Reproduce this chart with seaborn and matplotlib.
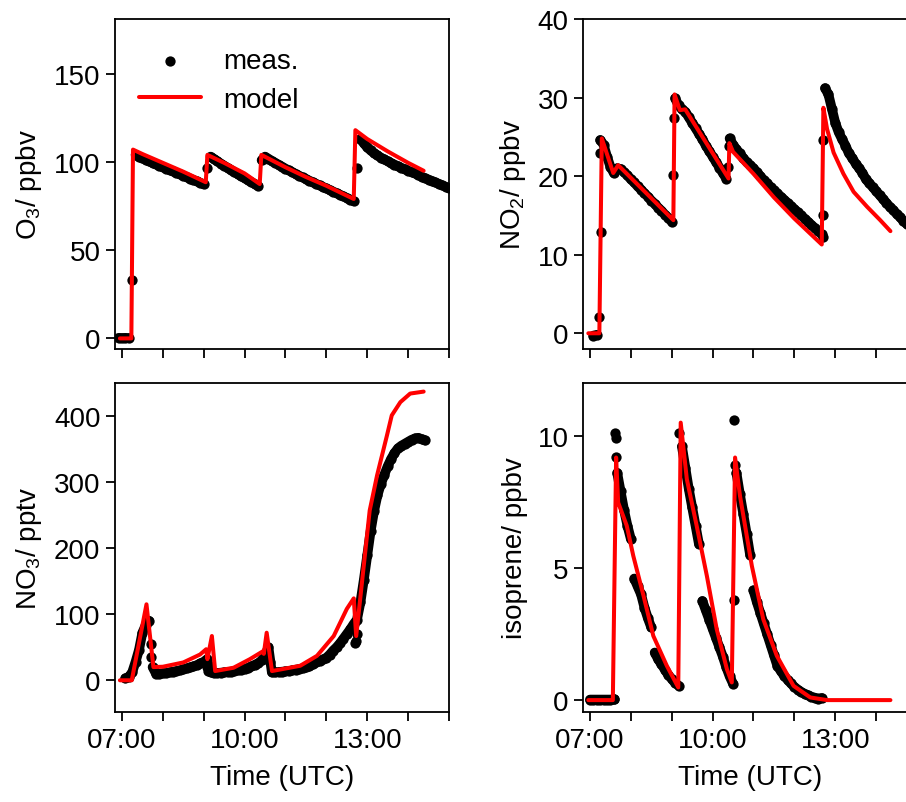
import numpy as np
import matplotlib
matplotlib.use('Agg')
import matplotlib.pyplot as plt
from matplotlib.ticker import FixedLocator, MultipleLocator, FuncFormatter
import seaborn as sns

nan = np.nan

# measurements every 5 min from 06:50 to 15:00 (decimal hours)
meas_hours = 7 + np.arange(-10, 485, 5) / 60

# rows: 06:50-06:55, then one row per hour (07h ... 14h), then 15:00
o3_meas = [nan, 0.3,
           0.2, 0.3, 0.2, 33, 104, 103.0, 102.1, 101.2, 100.3, 99.4, 98.6, 97.8,
           97.0, 96.2, 95.4, 94.6, 93.8, 93.0, 92.2, 91.4, 90.6, 89.8, 89.0, 88.2,
           87.4, 96.5, 103, 101.7, 100.4, 99.1, 97.9, 96.7, 95.5, 94.3, 93.1, 91.9,
           90.8, 89.7, 88.6, 87.5, 86.4, 101, 103, 101.8, 100.6, 99.5, 98.4, 97.3,
           96.2, 95.2, 94.2, 93.2, 92.2, 91.2, 90.3, 89.4, 88.5, 87.6, 86.7, 85.8,
           85.0, 84.1, 83.2, 82.3, 81.4, 80.5, 79.6, 78.7, 77.8, 96.5, 113, 110.5,
           108.3, 106.5, 105.0, 103.7, 102.5, 101.4, 100.4, 99.4, 98.5, 97.6, 96.7, 95.9,
           95.1, 94.3, 93.5, 92.7, 91.6, 90.8, 90.0, 89.2, 88.4, 87.6, 86.8, 86.0,
           85.2]
o3_jump_t = []
o3_jump = []
o3_model_t = [6.95, 7.23, 7.27, 7.5, 8.0, 8.5, 9.05, 9.09, 9.5, 10.0, 10.37, 10.41,
              11.0, 11.5, 12.0, 12.67, 12.71, 13.0, 13.5, 14.0, 14.38]
o3_model = [0, 0, 107, 104.5, 99.5, 94.5, 88.5, 104, 99.5, 93.5, 87.5, 104,
            97, 91.5, 86.5, 79, 118, 113, 106, 99.5, 95]

no2_meas = [nan, nan,
            nan, -0.3, -0.2, 24.6, 24.0, 22.5, 21.2, 20.4, 21.0, 20.9, 20.5, 20.1,
            19.6, 19.2, 18.7, 18.3, 17.8, 17.4, 16.9, 16.5, 16.0, 15.6, 15.1, 14.7,
            14.2, 29.9, 29.0, 28.5, 28.2, 27.5, 26.8, 26.1, 25.4, 24.7, 23.9, 23.2,
            22.5, 21.8, 21.1, 20.4, 19.7, 24.8, 24.0, 23.4, 22.9, 22.3, 21.8, 21.4,
            21.0, 20.5, 20.0, 19.5, 19.1, 18.6, 18.2, 17.8, 17.4, 17.0, 16.6, 16.2,
            15.8, 15.4, 15.0, 14.6, 14.2, 13.8, 13.4, 13.0, 12.6, 31.2, 30.4, 28.6,
            26.8, 25.6, 24.7, 23.9, 22.9, 22.3, 21.6, 21.0, 20.4, 19.6, 19.1, 18.6,
            18.1, 17.6, 17.1, 16.6, 16.1, 15.7, 15.2, 14.8, 14.3, 13.9, 13.5, 13.1,
            12.8]
no2_jump_t = [7.23, 7.27, 7.24, 9.04, 9.05, 10.38, 10.39, 12.70, 12.70, 12.71]
no2_jump = [2.1, 12.9, 22.9, 20.2, 27.4, 21.2, 23.8, 12.3, 15.0, 24.6]
no2_model_t = [6.96, 7.23, 7.29, 7.57, 7.69, 9.04, 9.07, 9.2, 9.33, 10.39, 10.41, 10.5,
               11.0, 11.5, 12.0, 12.67, 12.71, 12.8, 12.96, 13.2, 13.45, 13.78, 14.1, 14.35]
no2_model = [0, 0, 24.8, 20.4, 21.4, 14.4, 30.4, 28.4, 28.5, 19.7, 24.2, 23.1,
             20.3, 17.3, 14.6, 11.3, 28.7, 26.0, 23.0, 20.3, 18.0, 16.1, 14.4, 13.0]

no3_meas = [nan, nan,
            nan, 3, 5, 12, 28, 46, 72, 84, 90, 20, 10, 10,
            10.5, 11, 12, 13, 14, 15, 16.5, 18, 19.5, 21, 23, 25.5,
            28, 32, 12, 11, 11, 11.5, 12, 12.5, 13, 14, 15, 16,
            17.5, 19, 21, 23.5, 26, 30, 38, 50, 12, 12, 12.5, 13,
            13.5, 14, 15, 16, 17, 18, 19.5, 21, 24, 27, 29, 31.5,
            34, 39, 45, 50, 56, 63, 70, 77, 85, 92, 118, 152,
            189, 226, 256, 280, 297, 311, 324, 335, 344, 351, 355, 358,
            361, 364, 366, 367, 365, 363, nan, nan, nan, nan, nan, nan,
            nan]
no3_jump_t = [7.70, 7.72, 9.09, 9.11, 10.55, 10.62, 12.70, 12.72, 12.74]
no3_jump = [55, 35, 20, 14, 44, 28, 56, 60, 70]
no3_model_t = [6.95, 7.24, 7.6, 7.77, 8.0, 8.5, 8.91, 9.06, 9.09, 9.2, 9.28, 9.73,
               10.13, 10.45, 10.47, 10.54, 10.67, 11.36, 11.77, 12.18, 12.5, 12.67,
               12.73, 13.06, 13.24, 13.48, 13.6, 13.81, 14.05, 14.38]
no3_model = [0, 0, 115, 20, 20.5, 27, 39, 47, 32, 67, 14, 19,
             32, 44, 40, 72, 14, 22, 37, 67, 108, 124,
             67, 257, 310, 370, 401, 421, 434, 437]

iso_meas = [nan, nan,
            0.02, 0.02, 0.02, 0.02, 0.02, 0.02, 0.02, 0.03, 8.6, 7.9, 7.2, 6.6,
            6.1, 4.6, 4.3, 4.0, 3.5, 3.1, 2.75, 1.8, 1.55, 1.35, 1.15, 0.95,
            0.8, 0.65, 0.55, 9.6, 8.8, 8.0, 7.3, 6.6, 5.9, 3.75, 3.4, 3.05,
            2.7, 2.35, 2.0, 1.65, 1.25, 0.9, 0.62, 8.6, 7.8, 7.05, 6.3, 5.5,
            4.15, 3.7, 3.3, 2.9, 2.5, 2.1, 1.7, 1.3, 1.1, 0.92, 0.77, 0.63,
            0.5, 0.4, 0.31, 0.24, 0.18, 0.13, 0.09, 0.06, 0.08, nan, nan, nan,
            nan, nan, nan, nan, nan, nan, nan, nan, nan, nan, nan, nan,
            nan, nan, nan, nan, nan, nan, nan, nan, nan, nan, nan, nan,
            nan]
iso_jump_t = [7.6, 7.62, 7.63, 7.64, 9.19, 10.52, 10.53, 10.56]
iso_jump = [0.05, 10.1, 9.9, 9.2, 10.1, 3.8, 10.6, 8.9]
iso_model_t = [6.96, 7.56, 7.64, 7.69, 7.9, 8.06, 8.31, 8.55, 8.88, 9.16, 9.22, 9.37,
               9.61, 9.86, 10.1, 10.35, 10.47, 10.55, 10.67, 10.96, 11.24, 11.57,
               11.98, 12.39, 12.8, 14.35]
iso_model = [0, 0, 9.18, 7.48, 6.6, 5.46, 3.95, 2.43, 1.3, 0.48, 10.5, 8.36,
             6.6, 4.7, 2.69, 1.17, 0.67, 9.18, 7.73, 5.08, 3.06, 1.68,
             0.54, 0.1, 0, 0]

sns.set_style('ticks')
plt.rcParams['font.family'] = ['Liberation Sans', 'DejaVu Sans']
plt.rcParams['mathtext.default'] = 'regular'
plt.rcParams['axes.linewidth'] = 1.3
for key in ['text.color', 'axes.labelcolor', 'axes.edgecolor', 'xtick.color', 'ytick.color']:
    plt.rcParams[key] = 'black'

FS = 20

fig = plt.figure(figsize=(9.06, 8.03), dpi=100)
W, H = 906, 803


def px_axes(left, top, width, height):
    return fig.add_axes([left / W, 1 - (top + height) / H, width / W, height / H])


ax_o3 = px_axes(115, 20, 334, 330)
ax_no2 = px_axes(583, 20, 334, 330)
ax_no3 = px_axes(115, 384, 334, 329)
ax_iso = px_axes(583, 384, 334, 329)

# (axes, meas, extra meas during injections, model, label, ylim, yticks, max step joined in the dense band)
panels = [
    (ax_o3, o3_meas, o3_jump_t, o3_jump, o3_model_t, o3_model,
     'O$_3$/ ppbv', (-6, 181), [0, 50, 100, 150], 5.6),
    (ax_no2, no2_meas, no2_jump_t, no2_jump, no2_model_t, no2_model,
     'NO$_2$/ ppbv', (-2, 40), [0, 10, 20, 30, 40], 2.1),
    (ax_no3, no3_meas, no3_jump_t, no3_jump, no3_model_t, no3_model,
     'NO$_3$/ pptv', (-48, 450), [0, 100, 200, 300, 400], 40),
    (ax_iso, iso_meas, iso_jump_t, iso_jump, iso_model_t, iso_model,
     'isoprene/ ppbv', (-0.45, 12), [0, 5, 10], 0.88),
]

hour_fmt = FuncFormatter(lambda v, p: '%02d:00' % int(round(v)))

for i, (ax, meas, jt, jv, mt, mv, ylabel, ylim, yticks, step) in enumerate(panels):
    y = np.asarray(meas, dtype=float)
    ok = ~np.isnan(y)
    t_ok, y_ok = meas_hours[ok], y[ok]
    # split the dense 5-min record where it jumps, so the band stays continuous
    brk = np.r_[0, (np.abs(np.diff(y_ok)) > step) | (np.diff(t_ok) > 0.1)]
    seg = np.cumsum(brk)
    sns.lineplot(x=t_ok, y=y_ok, units=seg, estimator=None, ax=ax, color='black',
                 lw=7, solid_capstyle='round', solid_joinstyle='round', legend=False)

    mx = np.concatenate([meas_hours, jt])
    my = np.concatenate([meas, jv])
    sns.scatterplot(x=mx, y=my, ax=ax, color='black', s=55, linewidth=0,
                    label='meas.' if i == 0 else None)
    sns.lineplot(x=mt, y=mv, ax=ax, color='red', lw=2.9, sort=False,
                 estimator=None, label='model' if i == 0 else None)
    ax.set_xlim(6.83, 15.0)
    ax.set_ylim(*ylim)
    ax.set_yticks(yticks)
    ax.xaxis.set_major_locator(FixedLocator([7, 10, 13]))
    ax.xaxis.set_minor_locator(MultipleLocator(1))
    ax.xaxis.set_major_formatter(hour_fmt)
    ax.tick_params(which='both', direction='out', length=6.5, width=1.3, pad=4,
                   labelsize=FS, color='black', labelcolor='black')
    ax.set_ylabel(ylabel, fontsize=FS, labelpad=7)
    if i < 2:
        ax.tick_params(labelbottom=False)
        ax.set_xlabel('')
    else:
        ax.set_xlabel('Time (UTC)', fontsize=FS, labelpad=8)

ax_o3.legend(loc='upper left', bbox_to_anchor=(0.04, 0.945), borderaxespad=0,
             frameon=False, fontsize=FS, handlelength=2.2, handletextpad=0.8,
             labelspacing=0.46)

fig.savefig('out.png', dpi=100)
plt.close()
